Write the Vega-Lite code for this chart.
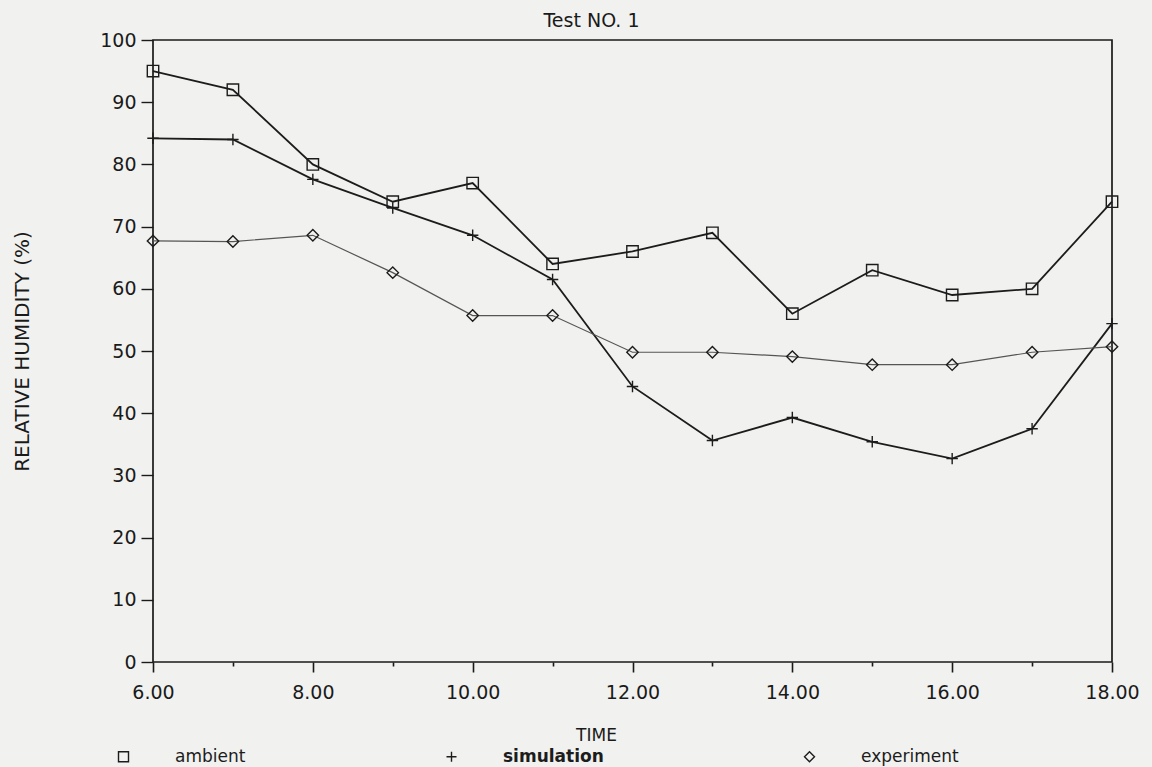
{
  "$schema": "https://vega.github.io/schema/vega-lite/v6.json",
  "autosize": {"type": "none"},
  "width": 959,
  "height": 622,
  "padding": {"left": 153, "top": 40, "right": 40, "bottom": 105},
  "background": "#f1f1ef",
  "config": {
    "view": {"stroke": "#1a1a1a", "strokeWidth": 1.7},
    "font": "DejaVu Sans",
    "axis": {"grid": false, "domain": false, "tickColor": "#1a1a1a", "labelColor": "#1a1a1a", "titleColor": "#1a1a1a", "labelFont": "DejaVu Sans", "titleFont": "DejaVu Sans", "titleFontWeight": "normal"}
  },
  "title": {"text": "Test NO. 1", "fontSize": 19, "fontWeight": "normal", "font": "DejaVu Sans", "color": "#1a1a1a", "dx": -41, "offset": 0},
  "data": {
    "values": [
      {"t": 6, "series": "ambient", "rh": 95},
      {"t": 7, "series": "ambient", "rh": 92},
      {"t": 8, "series": "ambient", "rh": 80},
      {"t": 9, "series": "ambient", "rh": 74},
      {"t": 10, "series": "ambient", "rh": 77},
      {"t": 11, "series": "ambient", "rh": 64},
      {"t": 12, "series": "ambient", "rh": 66},
      {"t": 13, "series": "ambient", "rh": 69},
      {"t": 14, "series": "ambient", "rh": 56},
      {"t": 15, "series": "ambient", "rh": 63},
      {"t": 16, "series": "ambient", "rh": 59},
      {"t": 17, "series": "ambient", "rh": 60},
      {"t": 18, "series": "ambient", "rh": 74},
      {"t": 6, "series": "simulation", "rh": 84.2},
      {"t": 7, "series": "simulation", "rh": 84},
      {"t": 8, "series": "simulation", "rh": 77.6},
      {"t": 9, "series": "simulation", "rh": 73},
      {"t": 10, "series": "simulation", "rh": 68.6},
      {"t": 11, "series": "simulation", "rh": 61.5},
      {"t": 12, "series": "simulation", "rh": 44.3},
      {"t": 13, "series": "simulation", "rh": 35.6},
      {"t": 14, "series": "simulation", "rh": 39.3},
      {"t": 15, "series": "simulation", "rh": 35.4},
      {"t": 16, "series": "simulation", "rh": 32.7},
      {"t": 17, "series": "simulation", "rh": 37.5},
      {"t": 18, "series": "simulation", "rh": 54.4},
      {"t": 6, "series": "experiment", "rh": 67.7},
      {"t": 7, "series": "experiment", "rh": 67.6},
      {"t": 8, "series": "experiment", "rh": 68.6},
      {"t": 9, "series": "experiment", "rh": 62.6},
      {"t": 10, "series": "experiment", "rh": 55.7},
      {"t": 11, "series": "experiment", "rh": 55.7},
      {"t": 12, "series": "experiment", "rh": 49.8},
      {"t": 13, "series": "experiment", "rh": 49.8},
      {"t": 14, "series": "experiment", "rh": 49.1},
      {"t": 15, "series": "experiment", "rh": 47.8},
      {"t": 16, "series": "experiment", "rh": 47.8},
      {"t": 17, "series": "experiment", "rh": 49.8},
      {"t": 18, "series": "experiment", "rh": 50.7}
    ]
  },
  "encoding": {
    "y": {
      "field": "rh", "type": "quantitative",
      "scale": {"domain": [0, 100], "nice": false},
      "axis": {
        "title": "RELATIVE HUMIDITY (%)", "titleFontSize": 20, "titleX": -131, "titleY": 311, "titleAngle": -90, "titleBaseline": "middle", "titleAlign": "center", "titleAnchor": "middle",
        "values": [0, 10, 20, 30, 40, 50, 60, 70, 80, 90, 100],
        "labelFontSize": 19, "labelPadding": 5, "tickSize": 12, "tickWidth": 1.4
      }
    }
  },
  "resolve": {"axis": {"x": "independent"}},
  "layer": [
    {
      "transform": [{"filter": "datum.series != 'experiment'"}],
      "mark": {"type": "line", "stroke": "#1c1c1c", "strokeWidth": 1.8},
      "encoding": {
        "x": {
          "field": "t", "type": "quantitative",
          "scale": {"domain": [6, 18], "nice": false, "zero": false},
          "axis": {
            "orient": "bottom",
            "title": "TIME", "titleFontSize": 17, "titleX": 443, "titleY": 73, "titleBaseline": "middle", "titleAlign": "center", "titleAnchor": "start",
            "values": [6, 8, 10, 12, 14, 16, 18],
            "format": ".2f",
            "labelFontSize": 19, "labelPadding": 11, "tickSize": 10, "tickWidth": 1.6, "labelFlush": false
          }
        },
        "detail": {"field": "series"}
      }
    },
    {
      "transform": [{"filter": "datum.series == 'experiment'"}],
      "mark": {"type": "line", "stroke": "#555555", "strokeWidth": 1.2},
      "encoding": {
        "x": {"field": "t", "type": "quantitative", "axis": null}
      }
    },
    {
      "mark": {"type": "point", "filled": false, "stroke": "#1c1c1c", "strokeWidth": 1.4, "opacity": 1, "size": 130},
      "encoding": {
        "x": {
          "field": "t", "type": "quantitative",
          "axis": {
            "orient": "bottom",
            "title": null, "values": [7, 9, 11, 13, 15, 17], "labels": false, "tickSize": 4, "tickWidth": 1.6
          }
        },
        "shape": {
          "field": "series", "type": "nominal",
          "scale": {"domain": ["ambient", "simulation", "experiment"], "range": ["square", "M-1,0L1,0M0,-1L0,1", "diamond"]},
          "legend": {
            "title": null, "orient": "none", "direction": "horizontal", "legendX": -38, "legendY": 708,
            "columnPadding": 197, "symbolStrokeColor": "#1c1c1c", "symbolFillColor": "transparent", "symbolStrokeWidth": 1.4,
            "symbolSize": 100, "labelFontSize": 17, "labelOffset": 43, "labelColor": "#1c1c1c", "labelFont": "DejaVu Sans",
            "labelFontWeight": {"expr": "datum.value == 'simulation' ? 'bold' : 'normal'"}
          }
        }
      }
    }
  ]
}
